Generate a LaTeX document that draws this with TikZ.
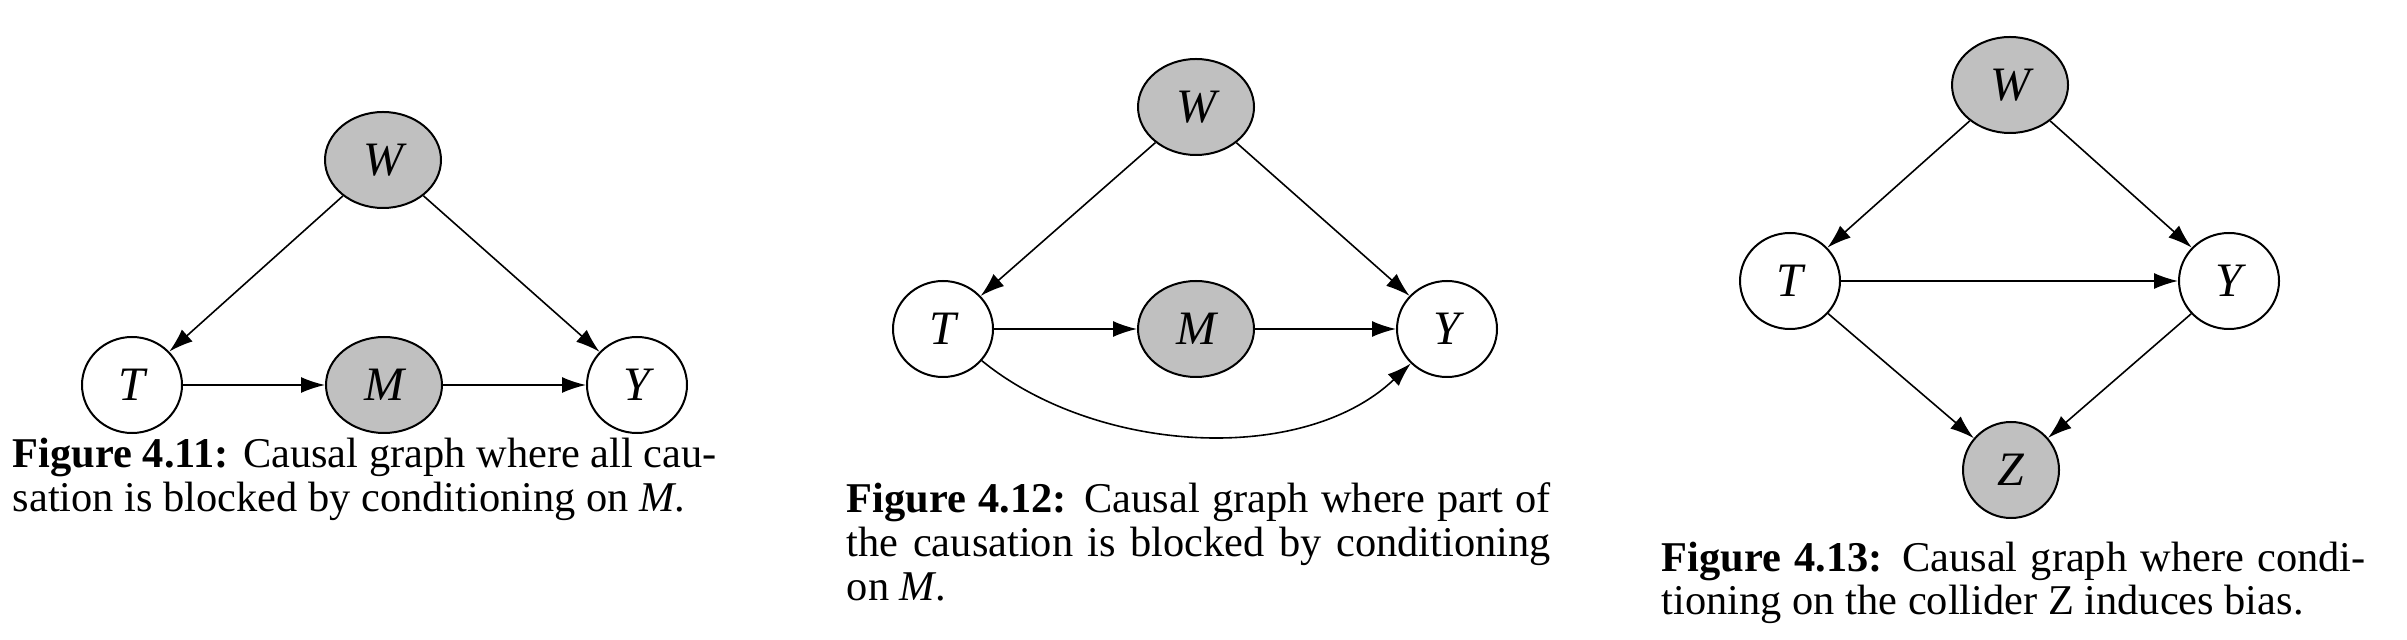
\documentclass[tikz,border=0pt]{standalone}
\usepackage{fontspec}
\setmainfont{Liberation Serif}
\usetikzlibrary{arrows.meta,shapes.geometric}
\definecolor{nodegray}{RGB}{192,192,192}
\begin{document}
\begin{tikzpicture}[x=0.25pt,y=-0.25pt,
  var/.style={ellipse, draw, line width=0.5pt, inner sep=0pt, minimum width=25pt, minimum height=24pt, font=\fontsize{12}{12}\selectfont\itshape},
  obs/.style={var, fill=nodegray},
  wide/.style={minimum width=29pt},
  roundnode/.style={minimum width=24pt},
  edge/.style={-{Latex[length=6pt,width=4pt]}, line width=0.4pt},
  captext/.style={anchor=base west, inner sep=0pt, text width=176pt, align=justify, font=\fontsize{10.6}{10.9}\selectfont}
]
\useasboundingbox (0,0) rectangle (2407,640);

% Figure 4.11
\node[obs,wide] (W1) at (383,160) {W};
\node[var] (T1) at (132,385) {T};
\node[obs,wide] (M1) at (384,385) {M};
\node[var] (Y1) at (637,385) {Y};
\draw[edge] (W1) -- (T1);
\draw[edge] (W1) -- (Y1);
\draw[edge] (T1) -- (M1);
\draw[edge] (M1) -- (Y1);
\node[captext] (cap1) at (12,468) {\textbf{Figure 4.11:} Causal graph where all cau-\linebreak sation is blocked by conditioning on \textit{M}.};

% Figure 4.12
\node[obs,wide] (W2) at (1196,107) {W};
\node[var] (T2) at (943,329) {T};
\node[obs,wide] (M2) at (1196,329) {M};
\node[var] (Y2) at (1447,329) {Y};
\coordinate (k1) at (1096,454);
\coordinate (k2) at (1303,466);
\draw[edge] (W2) -- (T2);
\draw[edge] (W2) -- (Y2);
\draw[edge] (T2) -- (M2);
\draw[edge] (M2) -- (Y2);
\draw[edge] (T2) .. controls (k1) and (k2) .. (Y2);
\node[captext] (cap2) at (846,513) {\textbf{Figure 4.12:} Causal graph where part of\linebreak the causation is blocked by conditioning\linebreak on \textit{M}.};

% Figure 4.13
\node[obs,wide] (W3) at (2010,85) {W};
\node[var] (T3) at (1790,281) {T};
\node[var] (Y3) at (2229,281) {Y};
\node[obs,roundnode] (Z3) at (2011,470) {Z};
\draw[edge] (W3) -- (T3);
\draw[edge] (W3) -- (Y3);
\draw[edge] (T3) -- (Y3);
\draw[edge] (T3) -- (Z3);
\draw[edge] (Y3) -- (Z3);
\node[captext] (cap3) at (1661,571) {\textbf{Figure 4.13:} Causal graph where condi-\linebreak tioning on the collider Z induces bias.};
\end{tikzpicture}
\end{document}
